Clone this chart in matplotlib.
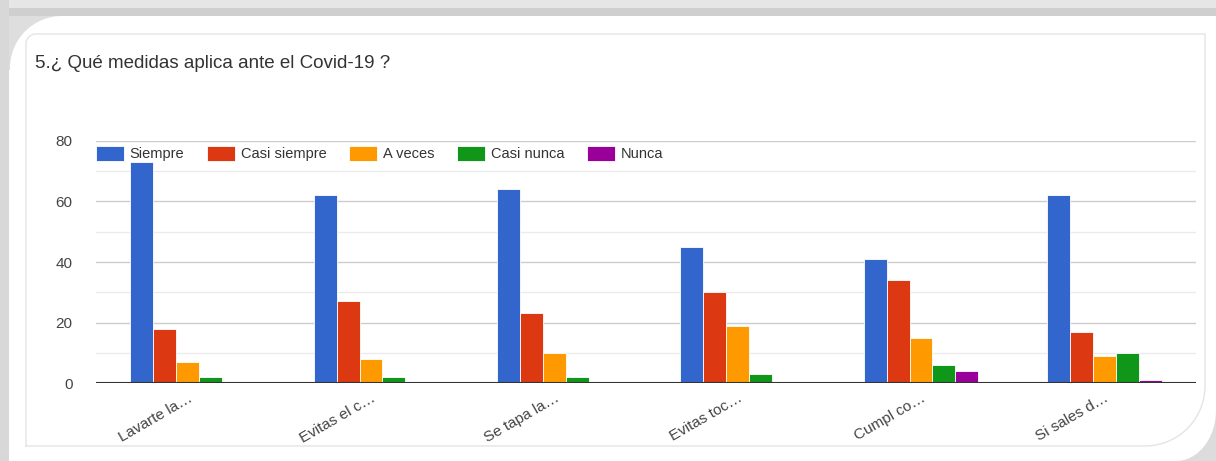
import matplotlib
matplotlib.use("Agg")
import matplotlib.pyplot as plt
import matplotlib.transforms as mtrans
import numpy as np
from matplotlib.patches import Rectangle, Ellipse, Circle
from matplotlib.ticker import MultipleLocator

# Datos del gráfico
title = "5.¿ Qué medidas aplica ante el Covid-19 ?"
categories = ["Lavarte la…", "Evitas el c…", "Se tapa la…",
              "Evitas toc…", "Cumpl co…", "Si sales d…"]
series_names = ["Siempre", "Casi siempre", "A veces", "Casi nunca", "Nunca"]
siempre = [73, 62, 64, 45, 41, 62]
casi_siempre = [18, 27, 23, 30, 34, 17]
a_veces = [7, 8, 10, 19, 15, 9]
casi_nunca = [2, 2, 2, 3, 6, 10]
nunca = [0, 0, 0, 0, 4, 1]

colors = ["#3366cc", "#dc3912", "#ff9900", "#109618", "#990099"]
chart_font = ["Liberation Sans", "DejaVu Sans"]

W, H = 1216, 461
fig = plt.figure(figsize=(W / 100, H / 100), dpi=100, facecolor="white")

# Marco decorativo (captura de pantalla)
bg = fig.add_axes([0, 0, 1, 1], zorder=0)
bg.set_xlim(0, W)
bg.set_ylim(H, 0)
bg.axis("off")
bg.add_patch(Rectangle((0, 0), 62, 70, color="#dedede", lw=0))
bg.add_patch(Circle((62, 68), 52, color="white", lw=0))
bg.add_patch(Rectangle((1176, 410), 40, 51, color="#dcdcdc", lw=0))
bg.add_patch(Ellipse((1176, 410), 80, 102, color="white", lw=0))
bg.add_patch(Rectangle((0, 0), W, 8, color="#e6e6e6", lw=0))
bg.add_patch(Rectangle((0, 8), W, 8, color="#cfcfcf", lw=0))
bg.add_patch(Rectangle((0, 0), 9, H, color="#d8d8d8", lw=0))

# borde interior de la tarjeta
r1, r2 = 10, 60
t1 = np.linspace(np.pi, 1.5 * np.pi, 20)
t2 = np.linspace(0, 0.5 * np.pi, 20)
px = np.concatenate([[26], 26 + r1 + r1 * np.cos(t1), [1205], 1205 - r2 + r2 * np.cos(t2), [26]])
py = np.concatenate([[446], 34 + r1 + r1 * np.sin(t1), [34], 446 - r2 + r2 * np.sin(t2), [446]])
bg.plot(px, py, color="#e4e4e4", lw=1)

fig.text(35 / W, 1 - 63 / H, title, fontsize=13.5, color="#333333",
         family=chart_font, va="center", ha="left")

# Gráfico de barras
ax = fig.add_axes([96 / W, 1 - 383 / H, 1100 / W, 242 / H], zorder=1)
ax.set_facecolor("none")

values = [siempre, casi_siempre, a_veces, casi_nunca, nunca]
x = np.arange(len(categories))
bw = 0.125
for i, (name, vals) in enumerate(zip(series_names, values)):
    ax.bar(x + (i - 2) * bw, vals, width=bw, color=colors[i], label=name,
           edgecolor="white", linewidth=0.6, zorder=3)

ax.set_xlim(-0.5, len(categories) - 0.5)
ax.set_ylim(0, 80)
ax.yaxis.set_major_locator(MultipleLocator(20))
ax.yaxis.set_minor_locator(MultipleLocator(10))
ax.grid(axis="y", which="major", color="#cccccc", lw=1, zorder=0)
ax.grid(axis="y", which="minor", color="#ebebeb", lw=1, zorder=0)
ax.axhline(0, color="#333333", lw=1.5, zorder=4)
for s in ax.spines.values():
    s.set_visible(False)

ax.tick_params(axis="y", which="both", length=0, pad=17, labelsize=11,
               labelcolor="#444444")
ax.tick_params(axis="x", length=0, pad=6)
ax.set_xticks(x)
ax.set_xticklabels(categories, rotation=30, ha="right", va="top",
                   fontsize=11, color="#444444", family=chart_font)
for lab in ax.get_yticklabels():
    lab.set_family(chart_font)

offset = mtrans.ScaledTranslation(7 / 100, 0, fig.dpi_scale_trans)
for lab in ax.get_xticklabels():
    lab.set_transform(lab.get_transform() + offset)

ax.legend(loc="upper left", bbox_to_anchor=(0, 0.98), ncol=5, frameon=False,
          borderaxespad=0, borderpad=0, handlelength=1.92, handleheight=1.25,
          handletextpad=0.4, columnspacing=1.55,
          prop={"family": chart_font, "size": 10.5}, labelcolor="#333333")

fig.savefig("out.png", dpi=100)
